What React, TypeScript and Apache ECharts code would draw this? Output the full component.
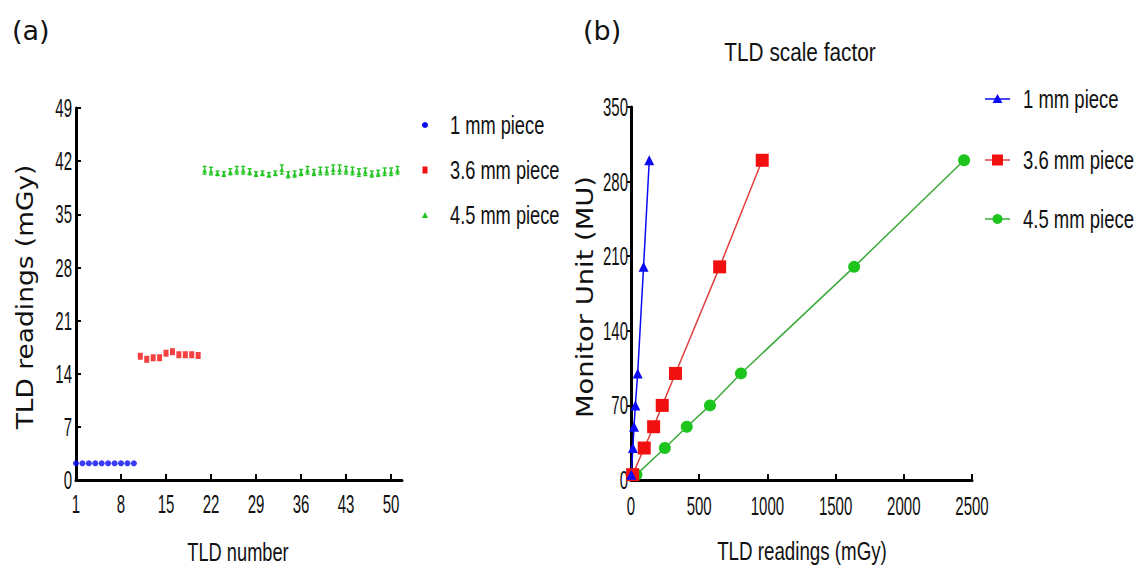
import React, { useEffect, useRef } from "react";
import * as echarts from "echarts";

// ---- Panel (a) data ----
const tldNumbers1mm = [1, 2, 3, 4, 5, 6, 7, 8, 9, 10];
const readings1mm = [2.2, 2.2, 2.2, 2.2, 2.2, 2.2, 2.2, 2.2, 2.2, 2.2];
const tldNumbers36mm = [11, 12, 13, 14, 15, 16, 17, 18, 19, 20];
const readings36mm = [16.3, 15.9, 16.1, 16.1, 16.7, 16.9, 16.5, 16.5, 16.5, 16.4];
const tldNumbers45mm = [21, 22, 23, 24, 25, 26, 27, 28, 29, 30, 31, 32, 33, 34, 35, 36, 37, 38, 39, 40, 41, 42, 43, 44, 45, 46, 47, 48, 49, 50, 51];
const readings45mm = [40.8, 40.7, 40.4, 40.3, 40.6, 40.8, 40.8, 40.6, 40.3, 40.4, 40.2, 40.4, 40.9, 40.2, 40.3, 40.5, 40.8, 40.5, 40.7, 40.7, 40.9, 40.9, 40.8, 40.7, 40.5, 40.6, 40.3, 40.4, 40.6, 40.6, 40.8];
const errors45mm = [0.5, 0.5, 0.3, 0.3, 0.4, 0.5, 0.5, 0.4, 0.3, 0.3, 0.3, 0.3, 0.6, 0.4, 0.4, 0.4, 0.5, 0.4, 0.5, 0.5, 0.6, 0.6, 0.5, 0.5, 0.5, 0.5, 0.4, 0.4, 0.5, 0.5, 0.5];
const tldTicks = [1, 8, 15, 22, 29, 36, 43, 50];
const readingTicks = [0, 7, 14, 21, 28, 35, 42, 49];

// ---- Panel (b) data ----
const monitorUnits = [5, 30, 50, 70, 100, 200, 300];
const dose1mm = [2, 14, 22, 32, 49, 92, 134];
const dose36mm = [12, 97, 166, 229, 326, 650, 962];
const dose45mm = [40, 248, 409, 579, 806, 1636, 2442];
const doseTicks = [0, 500, 1000, 1500, 2000, 2500];
const muTicks = [0, 70, 140, 210, 280, 350];

const legendNames = ["1 mm piece", "3.6 mm piece", "4.5 mm piece"];

const BLUE = "#0a0af5";
const RED = "#f01010";
const GREEN = "#1cc41c";
const NARROW = '"Liberation Sans", Arial, sans-serif';
const WIDE = '"DejaVu Sans", Verdana, sans-serif';

const zip = (xs: number[], ys: number[]) => xs.map((x, i) => [x, ys[i]]);

export default function App() {
  const ref = useRef<HTMLDivElement>(null);
  useEffect(() => {
    if (!ref.current) return;
    const chart = echarts.init(ref.current, undefined, { renderer: "svg" });
    const axisLine = { show: true, lineStyle: { color: "#000", width: 3 } };

    const textEl = (
      text: string,
      x: number,
      y: number,
      font: string,
      size: number,
      align: string = "center",
      extra: any = {}
    ) => ({
      type: "text",
      x,
      y,
      ...extra,
      style: {
        text,
        fill: "#111",
        font: `${size}px ${font}`,
        textAlign: align,
        textVerticalAlign: "middle",
      },
    });

    const leftRows = [125, 170, 215];
    const rightRows = [99, 160, 219];

    const option: any = {
      animation: false,
      backgroundColor: "#fff",
      grid: [
        { left: 76, top: 108, width: 326, height: 372 },
        { left: 631, top: 107, width: 341, height: 373 },
      ],
      xAxis: [
        {
          type: "value",
          gridIndex: 0,
          min: 1,
          max: 51.7,
          interval: 7,
          axisLine,
          axisTick: { show: true, inside: true, length: 6, lineStyle: { color: "#000", width: 2 }, customValues: tldTicks },
          axisLabel: { show: false },
          splitLine: { show: false },
        },
        {
          type: "value",
          gridIndex: 1,
          min: 0,
          max: 2500,
          interval: 500,
          axisLine,
          axisTick: { show: true, inside: true, length: 6, lineStyle: { color: "#000", width: 2 } },
          axisLabel: { show: false },
          splitLine: { show: false },
        },
      ],
      yAxis: [
        {
          type: "value",
          gridIndex: 0,
          min: 0,
          max: 49,
          interval: 7,
          axisLine,
          axisTick: { show: true, inside: true, length: 5, lineStyle: { color: "#000", width: 2 } },
          axisLabel: { show: false },
          splitLine: { show: false },
        },
        {
          type: "value",
          gridIndex: 1,
          min: 0,
          max: 350,
          interval: 70,
          axisLine,
          axisTick: { show: true, inside: false, length: 4, lineStyle: { color: "#000", width: 2 } },
          axisLabel: { show: false },
          splitLine: { show: false },
        },
      ],
      series: [
        {
          name: legendNames[0],
          type: "scatter",
          xAxisIndex: 0,
          yAxisIndex: 0,
          symbol: "circle",
          symbolSize: 6,
          itemStyle: { color: BLUE },
          data: zip(tldNumbers1mm, readings1mm),
        },
        {
          name: legendNames[1],
          type: "scatter",
          xAxisIndex: 0,
          yAxisIndex: 0,
          symbol: "rect",
          symbolSize: [5, 7],
          itemStyle: { color: RED },
          data: zip(tldNumbers36mm, readings36mm),
        },
        {
          name: legendNames[2] + " error",
          type: "custom",
          xAxisIndex: 0,
          yAxisIndex: 0,
          encode: { x: 0, y: 1 },
          data: tldNumbers45mm.map((x, i) => [x, readings45mm[i], errors45mm[i]]),
          renderItem: (params: any, api: any) => {
            const x = api.value(0);
            const y = api.value(1);
            const e = api.value(2);
            const hi = api.coord([x, y + e]);
            const lo = api.coord([x, y - e]);
            const hw = 2;
            const st = { stroke: GREEN, lineWidth: 1.3 };
            return {
              type: "group",
              children: [
                { type: "line", shape: { x1: hi[0], y1: hi[1], x2: lo[0], y2: lo[1] }, style: st },
                { type: "line", shape: { x1: hi[0] - hw, y1: hi[1], x2: hi[0] + hw, y2: hi[1] }, style: st },
                { type: "line", shape: { x1: lo[0] - hw, y1: lo[1], x2: lo[0] + hw, y2: lo[1] }, style: st },
              ],
            };
          },
        },
        {
          name: legendNames[2],
          type: "scatter",
          xAxisIndex: 0,
          yAxisIndex: 0,
          symbol: "triangle",
          symbolSize: 5,
          itemStyle: { color: GREEN },
          data: zip(tldNumbers45mm, readings45mm),
        },
        {
          name: legendNames[2] + " (b)",
          type: "line",
          xAxisIndex: 1,
          yAxisIndex: 1,
          symbol: "circle",
          symbolSize: 12,
          lineStyle: { color: "#3aaa3a", width: 1.5 },
          itemStyle: { color: GREEN },
          data: zip(dose45mm, monitorUnits),
        },
        {
          name: legendNames[1] + " (b)",
          type: "line",
          xAxisIndex: 1,
          yAxisIndex: 1,
          symbol: "rect",
          symbolSize: 13,
          lineStyle: { color: "#e04040", width: 1.5 },
          itemStyle: { color: RED },
          data: zip(dose36mm, monitorUnits),
        },
        {
          name: legendNames[0] + " (b)",
          type: "line",
          xAxisIndex: 1,
          yAxisIndex: 1,
          symbol: "triangle",
          symbolSize: 10,
          lineStyle: { color: BLUE, width: 1.5 },
          itemStyle: { color: BLUE },
          data: zip(dose1mm, monitorUnits),
        },
      ],
    };
    chart.setOption(option);

    // Tick labels placed through the axes' own scales (narrowed font)
    const tickSize = 25;
    const tickScale = { scaleX: 0.6 };
    const tickLabels: any[] = [];
    tldTicks.forEach((v) => {
      const x = chart.convertToPixel({ xAxisIndex: 0 } as any, v) as any as number;
      tickLabels.push(textEl(String(v), x, 504, NARROW, tickSize, "center", tickScale));
    });
    readingTicks.forEach((v) => {
      const y = chart.convertToPixel({ yAxisIndex: 0 } as any, v) as any as number;
      tickLabels.push(textEl(String(v), 72, y, NARROW, tickSize, "right", tickScale));
    });
    doseTicks.forEach((v) => {
      const x = chart.convertToPixel({ xAxisIndex: 1 } as any, v) as any as number;
      tickLabels.push(textEl(String(v), x, 506, NARROW, tickSize, "center", tickScale));
    });
    muTicks.forEach((v) => {
      const y = chart.convertToPixel({ yAxisIndex: 1 } as any, v) as any as number;
      tickLabels.push(textEl(String(v), 628, y, NARROW, tickSize, "right", tickScale));
    });

    const narrowTitle = { scaleX: 0.73 };
    const graphic: any[] = [
      textEl("(a)", 12, 30, WIDE, 27, "left"),
      textEl("(b)", 583, 30, WIDE, 27, "left"),
      textEl("TLD scale factor", 800, 52, NARROW, 26, "center", { scaleX: 0.8 }),
      textEl("TLD number", 238, 552, NARROW, 25, "center", narrowTitle),
      textEl("TLD readings (mGy)", 802, 552, NARROW, 25, "center", { scaleX: 0.75 }),
      textEl("TLD readings (mGy)", 25, 297, WIDE, 23, "center", { rotation: Math.PI / 2, scaleX: 1.15 }),
      textEl("Monitor Unit (MU)", 585, 297, WIDE, 23, "center", { rotation: Math.PI / 2, scaleX: 1.19 }),
      // left legend
      { type: "circle", shape: { cx: 425, cy: leftRows[0], r: 3 }, style: { fill: BLUE } },
      { type: "rect", shape: { x: 422.5, y: leftRows[1] - 3.5, width: 5, height: 7 }, style: { fill: RED } },
      {
        type: "polygon",
        shape: { points: [[422, leftRows[2] + 3], [428, leftRows[2] + 3], [425, leftRows[2] - 3]] },
        style: { fill: GREEN },
      },
      textEl(legendNames[0], 450, leftRows[0], NARROW, 25, "left", narrowTitle),
      textEl(legendNames[1], 450, leftRows[1], NARROW, 25, "left", narrowTitle),
      textEl(legendNames[2], 450, leftRows[2], NARROW, 25, "left", narrowTitle),
      // right legend
      { type: "line", shape: { x1: 985, y1: rightRows[0], x2: 1010, y2: rightRows[0] }, style: { stroke: BLUE, lineWidth: 1.5 } },
      {
        type: "polygon",
        shape: { points: [[992.5, rightRows[0] + 4], [1002.5, rightRows[0] + 4], [997.5, rightRows[0] - 5]] },
        style: { fill: BLUE },
      },
      { type: "line", shape: { x1: 985, y1: rightRows[1], x2: 1010, y2: rightRows[1] }, style: { stroke: "#e04040", lineWidth: 1.5 } },
      { type: "rect", shape: { x: 992, y: rightRows[1] - 5.5, width: 11, height: 11 }, style: { fill: RED } },
      { type: "line", shape: { x1: 985, y1: rightRows[2], x2: 1010, y2: rightRows[2] }, style: { stroke: "#3aaa3a", lineWidth: 1.5 } },
      { type: "circle", shape: { cx: 997.5, cy: rightRows[2], r: 5 }, style: { fill: GREEN } },
      textEl(legendNames[0], 1023, rightRows[0], NARROW, 25, "left", { scaleX: 0.74 }),
      textEl(legendNames[1], 1023, rightRows[1], NARROW, 25, "left", { scaleX: 0.74 }),
      textEl(legendNames[2], 1023, rightRows[2], NARROW, 25, "left", { scaleX: 0.74 }),
      ...tickLabels,
    ];
    chart.setOption({ graphic });
    return () => chart.dispose();
  }, []);
  return <div ref={ref} style={{ position: "fixed", left: 0, top: 0, width: 1141, height: 569 }} />;
}
